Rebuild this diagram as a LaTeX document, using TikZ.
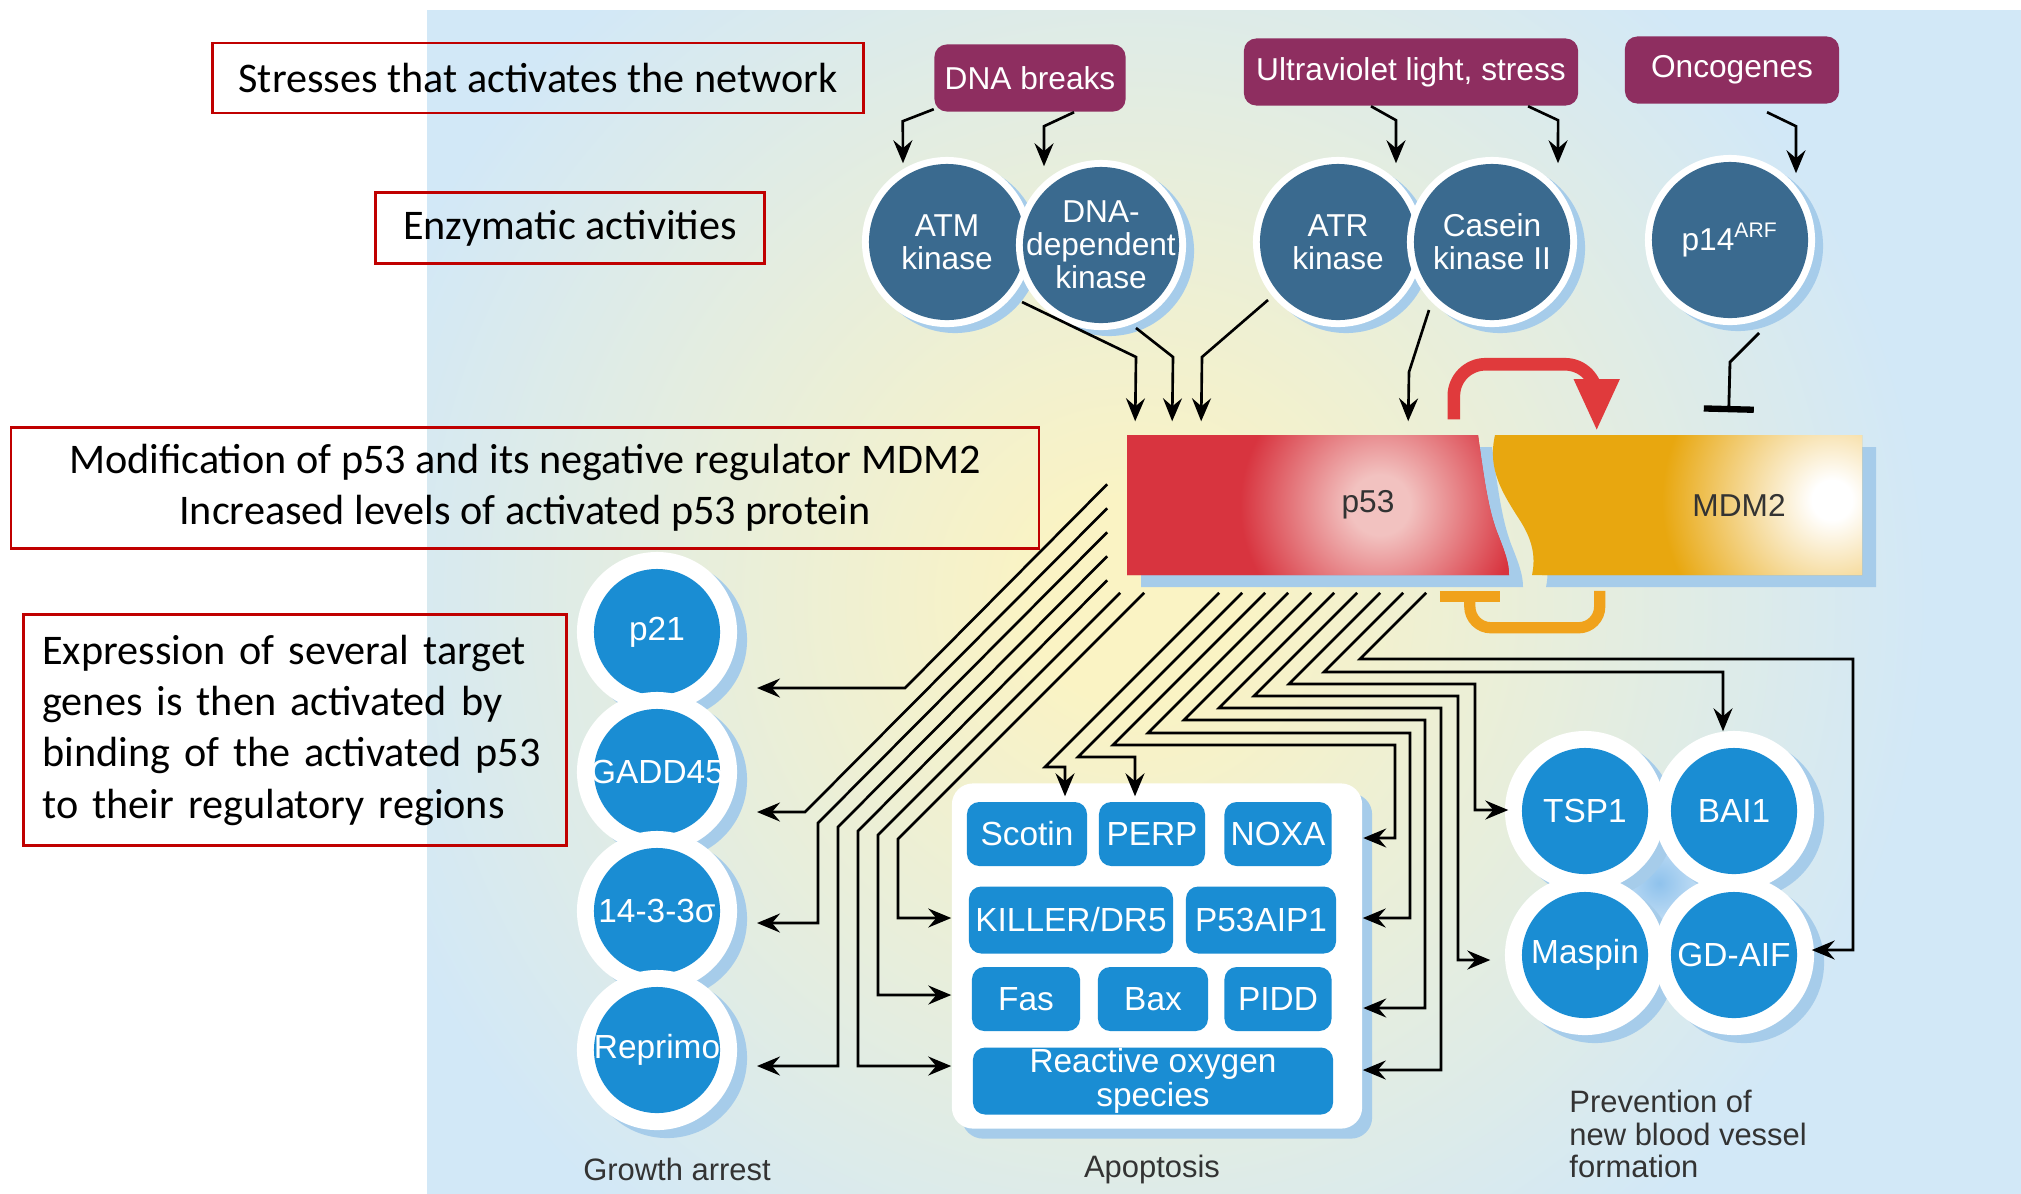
\documentclass[tikz,border=0pt]{standalone}
\usepackage{fontspec}
\setmainfont{Carlito}
\newfontfamily\hel{Liberation Sans}
\usetikzlibrary{arrows.meta}
\definecolor{panelblue}{HTML}{D2E8F7}
\definecolor{panelyellow}{HTML}{FAF3C4}
\definecolor{notered}{HTML}{C00000}
\definecolor{stresspurple}{HTML}{8E2E60}
\definecolor{kinblue}{HTML}{3A6A8F}
\definecolor{genblue}{HTML}{1A8DD3}
\definecolor{shblue}{HTML}{A6CCEA}
\definecolor{glowblue}{HTML}{8FC2EC}
\definecolor{p53red}{HTML}{D8343F}
\definecolor{p53pink}{HTML}{F2C2C0}
\definecolor{mdmgold}{HTML}{E8A70F}
\definecolor{fbred}{HTML}{E03A3C}
\definecolor{inhorange}{HTML}{F0A21C}
\pgfdeclareradialshading{bgglow}{\pgfpoint{0cm}{0cm}}{color(0cm)=(panelyellow); color(1cm)=(panelyellow); color(8cm)=(panelblue); color(16cm)=(panelblue)}
\pgfdeclareradialshading{p53glow}{\pgfpoint{0cm}{0cm}}{color(0cm)=(p53pink); color(0.3cm)=(p53pink); color(1.4cm)=(p53red); color(3cm)=(p53red)}
\pgfdeclareradialshading{mdmglow}{\pgfpoint{0cm}{0cm}}{color(0cm)=(white); color(0.2cm)=(white); color(1.7cm)=(mdmgold); color(3cm)=(mdmgold)}
\pgfdeclareradialshading{angioglow}{\pgfpoint{0cm}{0cm}}{color(0cm)=(glowblue); color(0.9cm)=(white); color(1cm)=(white)}
\begin{document}
\begin{tikzpicture}[x=0.01cm,y=-0.01cm,
  note/.style={draw=notered,line width=0.7pt,inner sep=0pt,align=center,font=\fontsize{12}{14.6}\selectfont},
  stress/.style={rectangle,rounded corners=3.5pt,fill=stresspurple,text=white,inner sep=0pt,minimum height=0.67cm,font=\hel\fontsize{9}{10}\selectfont},
  kinlabel/.style={text=white,align=center,inner sep=0pt,font=\hel\fontsize{9}{9.4}\selectfont},
  kin/.style={circle,fill=kinblue,minimum size=1.56cm,inner sep=0pt,
    preaction={fill=shblue,draw=shblue,line width=0.14cm,transform canvas={shift={(0.08cm,-0.06cm)}}},
    preaction={draw=white,line width=0.14cm},label={[kinlabel]center:#1}},
  genlabel/.style={text=white,inner sep=0pt,font=\hel\fontsize{9.5}{10}\selectfont},
  gene/.style={circle,fill=genblue,minimum size=1.26cm,inner sep=0pt,
    preaction={fill=shblue,draw=shblue,line width=0.34cm,transform canvas={shift={(0.1cm,-0.08cm)}}},
    preaction={draw=white,line width=0.34cm},label={[genlabel]center:#1}},
  gbox/.style={rectangle,rounded corners=3.5pt,fill=genblue,text=white,inner sep=0pt,minimum height=0.64cm,align=center,font=\hel\fontsize{9.5}{9.5}\selectfont},
  apobox/.style={rectangle,rounded corners=6pt,fill=white,minimum width=4.1cm,minimum height=3.45cm,
    preaction={fill=shblue,transform canvas={shift={(0.1cm,-0.1cm)}}}},
  protein/.style={minimum height=1.4cm,inner sep=0pt,text=black!80,font=\hel\fontsize{9}{10}\selectfont},
  caption/.style={text=black!80,font=\hel\fontsize{8.8}{9.2}\selectfont},
  glow/.style={inner sep=0pt},
  arr/.style={line width=0.75pt,-{Stealth[length=2.3mm,width=1.9mm,inset=0.8mm]}},
  tee/.style={line width=0.8pt,-{Bar[width=5mm,line width=1.8pt]}},
  fb/.style={fbred,line width=3.6pt,rounded corners=9pt,-{Triangle[length=5.2mm,width=4.2mm]}},
  inh/.style={inhorange,line width=3.2pt,rounded corners=6pt,-{Bar[width=6mm]}}]
\useasboundingbox (0,0) rectangle (2021,1193);
\fill[white] (0,0) rectangle (2021,1193);
\begin{scope}
\clip (427,10) rectangle (2021,1193);
\fill[panelblue] (427,10) rectangle (2021,1193);
\node[glow] at (1130,600) {\pgfuseshading{bgglow}};
\end{scope}

\node[note,minimum width=6.51cm,minimum height=0.70cm] (stresses) at (538,78) {Stresses that activates the network};
\node[note,minimum width=3.89cm,minimum height=0.71cm] (enzymes) at (570,228) {Enzymatic activities};
\node[note,minimum width=10.27cm,minimum height=1.21cm] (modif) at (525,488) {Modification of p53 and its negative regulator MDM2\\Increased levels of activated p53 protein};
\node[note,text width=5.05cm,inner xsep=0.19cm,minimum height=2.31cm,align=left] (express) at (295,730) {Expression of several target\\genes is then activated by\\binding of the activated p53\\to their regulatory regions};

\node[stress,minimum width=1.91cm] (dnab) at (1030,78) {DNA breaks};
\node[stress,minimum width=3.34cm] (uv) at (1411,72) {Ultraviolet light, stress};
\node[stress,minimum width=2.14cm] (onco) at (1732,70) {Oncogenes};

\node[kin={ATM\\kinase}] (atm) at (947,242) {};
\node[kin={DNA-\\dependent\\kinase}] (dnapk) at (1101,245) {};
\node[kin={ATR\\kinase}] (atr) at (1338,242) {};
\node[kin={Casein\\kinase II}] (ck2) at (1492,242) {};
\node[kin={p14\textsuperscript{ARF}}] (arf) at (1730,240) {};

\fill[p53red,preaction={fill=shblue,transform canvas={shift={(0.14cm,-0.12cm)}}},
  path picture={\node[glow] at (1380,505) {\pgfuseshading{p53glow}};}]
  (1127,435) -- (1478,435) .. controls (1484,478) and (1488,508) .. (1497,532)
  .. controls (1505,552) and (1509,563) .. (1509,575) -- (1127,575) -- cycle;
\fill[mdmgold,preaction={fill=shblue,transform canvas={shift={(0.14cm,-0.12cm)}}},
  path picture={\node[glow] at (1832,500) {\pgfuseshading{mdmglow}};}]
  (1495,435) -- (1862,435) -- (1862,575) -- (1532,575) .. controls (1536,556) and (1532,540) .. (1521,522)
  .. controls (1503,494) and (1487,470) .. (1495,435) -- cycle;
\node[protein,minimum width=3.82cm] (p53) at (1318,505) {\hspace*{1cm}p53};
\node[protein,minimum width=3.67cm] (mdm2) at (1678,505) {\hspace*{1.22cm}MDM2};

\draw[fb] ([shift={(-56,-15)}]p53.north east) -- ++(0,-55) -| ([shift={(103,-3)}]mdm2.north west);
\draw[inh] ([shift={(106,15)}]mdm2.south west) -- ++(0,37) -| ([shift={(-40,15)}]p53.south east);

\draw[arr] ([yshift=0.03cm]dnab.south west) -- ++(-31,12) -- (atm.north -| 903,0);
\draw[arr] ([xshift=0.44cm]dnab.south) -- ++(-30,14) -- (dnapk.north -| 1044,0);
\draw[arr] ([xshift=-0.4cm]uv.south) -- ++(25,14) -- (atr.north -| 1396,0);
\draw[arr] ([xshift=1.17cm]uv.south) -- ++(30,14) -- (ck2.north -| 1558,0);
\draw[arr] ([shift={(35,8)}]onco.south) -- ++(29,14) -- ++(0,47);

\draw[arr] ([shift={(75,60)}]atm.center) -- (1136,357) -- ([shift={(9,-13)}]p53.north west);
\draw[arr] ([shift={(35,83)}]dnapk.center) -- (1173,357) -- ([shift={(46,-13)}]p53.north west);
\draw[arr] ([shift={(-70,58)}]atr.center) -- (1202,357) -- ([shift={(75,-13)}]p53.north west);
\draw[arr] ([shift={(-63,68)}]ck2.center) -- (1409,372) -- ([shift={(282,-13)}]p53.north west);
\draw[tee] ([shift={(29,93)}]arf.center) -- (1730,362) -- ([shift={(235,-22)}]mdm2.north west);

\node[apobox] (apo) at (1157,956) {};
\node[gbox,minimum width=1.20cm] (scotin) at (1027,834) {Scotin};
\node[gbox,minimum width=1.06cm] (perp) at (1152,834) {PERP};
\node[gbox,minimum width=1.07cm] (noxa) at (1278,834) {NOXA};
\node[gbox,minimum width=2.04cm,minimum height=0.67cm] (killer) at (1071,920) {KILLER/DR5};
\node[gbox,minimum width=1.50cm,minimum height=0.67cm] (aip) at (1261,920) {P53AIP1};
\node[gbox,minimum width=1.08cm] (fas) at (1026,999) {Fas};
\node[gbox,minimum width=1.10cm] (bax) at (1153,999) {Bax};
\node[gbox,minimum width=1.07cm] (pidd) at (1278,999) {PIDD};
\node[gbox,minimum width=3.60cm,minimum height=0.67cm,font=\hel\fontsize{9.5}{8.4}\selectfont] (ros) at (1153,1081) {Reactive oxygen\\species};

\node[gene=p21] (p21) at (657,632) {};
\node[gene=GADD45] (gadd) at (657,772) {};
\node[gene=14-3-3σ] (sigma) at (657,911) {};
\node[gene=Reprimo] (reprimo) at (657,1050) {};

\begin{scope}
\clip (1659,883) circle (100);
\node[glow] at (1659,883) {\pgfuseshading{angioglow}};
\end{scope}
\node[gene=TSP1] (tsp1) at (1585,811) {};
\node[gene=BAI1] (bai1) at (1734,811) {};
\node[gene=Maspin] (maspin) at (1585,955) {};
\node[gene=GD-AIF] (gdaif) at (1734,955) {};

\draw[arr] ([shift={(-19,50)}]p53.north west) -- (905,688) -- ([shift={(100,56)}]p21.center);
\draw[arr] ([shift={(-19,74)}]p53.north west) -- (805,812) -- ([shift={(100,40)}]gadd.center);
\draw[arr] ([shift={(-19,98)}]p53.north west) -- (818,823) |- ([shift={(100,12)}]sigma.center);
\draw[arr] ([shift={(-19,122)}]p53.north west) -- (838,827) |- ([shift={(100,16)}]reprimo.center);
\draw[arr] ([shift={(-19,146)}]p53.north west) -- (858,831) |- ([shift={(-21,-15)}]ros.west);
\draw[arr] ([shift={(-6,17)}]p53.south west) -- (878,835) |- ([shift={(-20,-4)}]fas.west);
\draw[arr] ([shift={(18,17)}]p53.south west) -- (898,839) |- ([shift={(-17,-2)}]killer.west);

\draw[arr] ([shift={(93,17)}]p53.south west) -- (1045,767) -| ([shift={(38,-5)}]scotin.north);
\draw[arr] ([shift={(116,17)}]p53.south west) -- (1078,757) -| ([shift={(-17,-5)}]perp.north);
\draw[arr] ([shift={(139,17)}]p53.south west) -- (1113,745) -- (1395,745) |- ([shift={(31,4)}]noxa.east);
\draw[arr] ([shift={(162,17)}]p53.south west) -- (1148,733) -- (1410,733) |- ([shift={(26,-2)}]aip.east);
\draw[arr] ([shift={(185,17)}]p53.south west) -- (1184,720) -- (1425,720) |- ([shift={(31,9)}]pidd.east);
\draw[arr] ([shift={(208,17)}]p53.south west) -- (1219,708) -- (1441,708) |- ([shift={(29,-11)}]ros.east);
\draw[arr] ([shift={(231,17)}]p53.south west) -- (1254,696) -- (1458,696) |- ([shift={(-31,5)}]maspin.west);
\draw[arr] ([shift={(254,17)}]p53.south west) -- (1289,684) -- (1475,684) |- ([shift={(-13,-1)}]tsp1.west);
\draw[arr] ([shift={(277,17)}]p53.south west) -- (1324,672) -| ([shift={(-11,-16)}]bai1.north);
\draw[arr] ([shift={(300,17)}]p53.south west) -- (1360,659) -- (1853,659) |- ([shift={(14,-5)}]gdaif.east);

\node[caption] (growthlbl) at (677,1169) {Growth arrest};
\node[caption] (apolbl) at (1152,1169) {Apoptosis};
\node[caption,align=left,anchor=west] (angiolbl) at (1557,1134) {Prevention of\\new blood vessel\\formation};
\end{tikzpicture}
\end{document}
